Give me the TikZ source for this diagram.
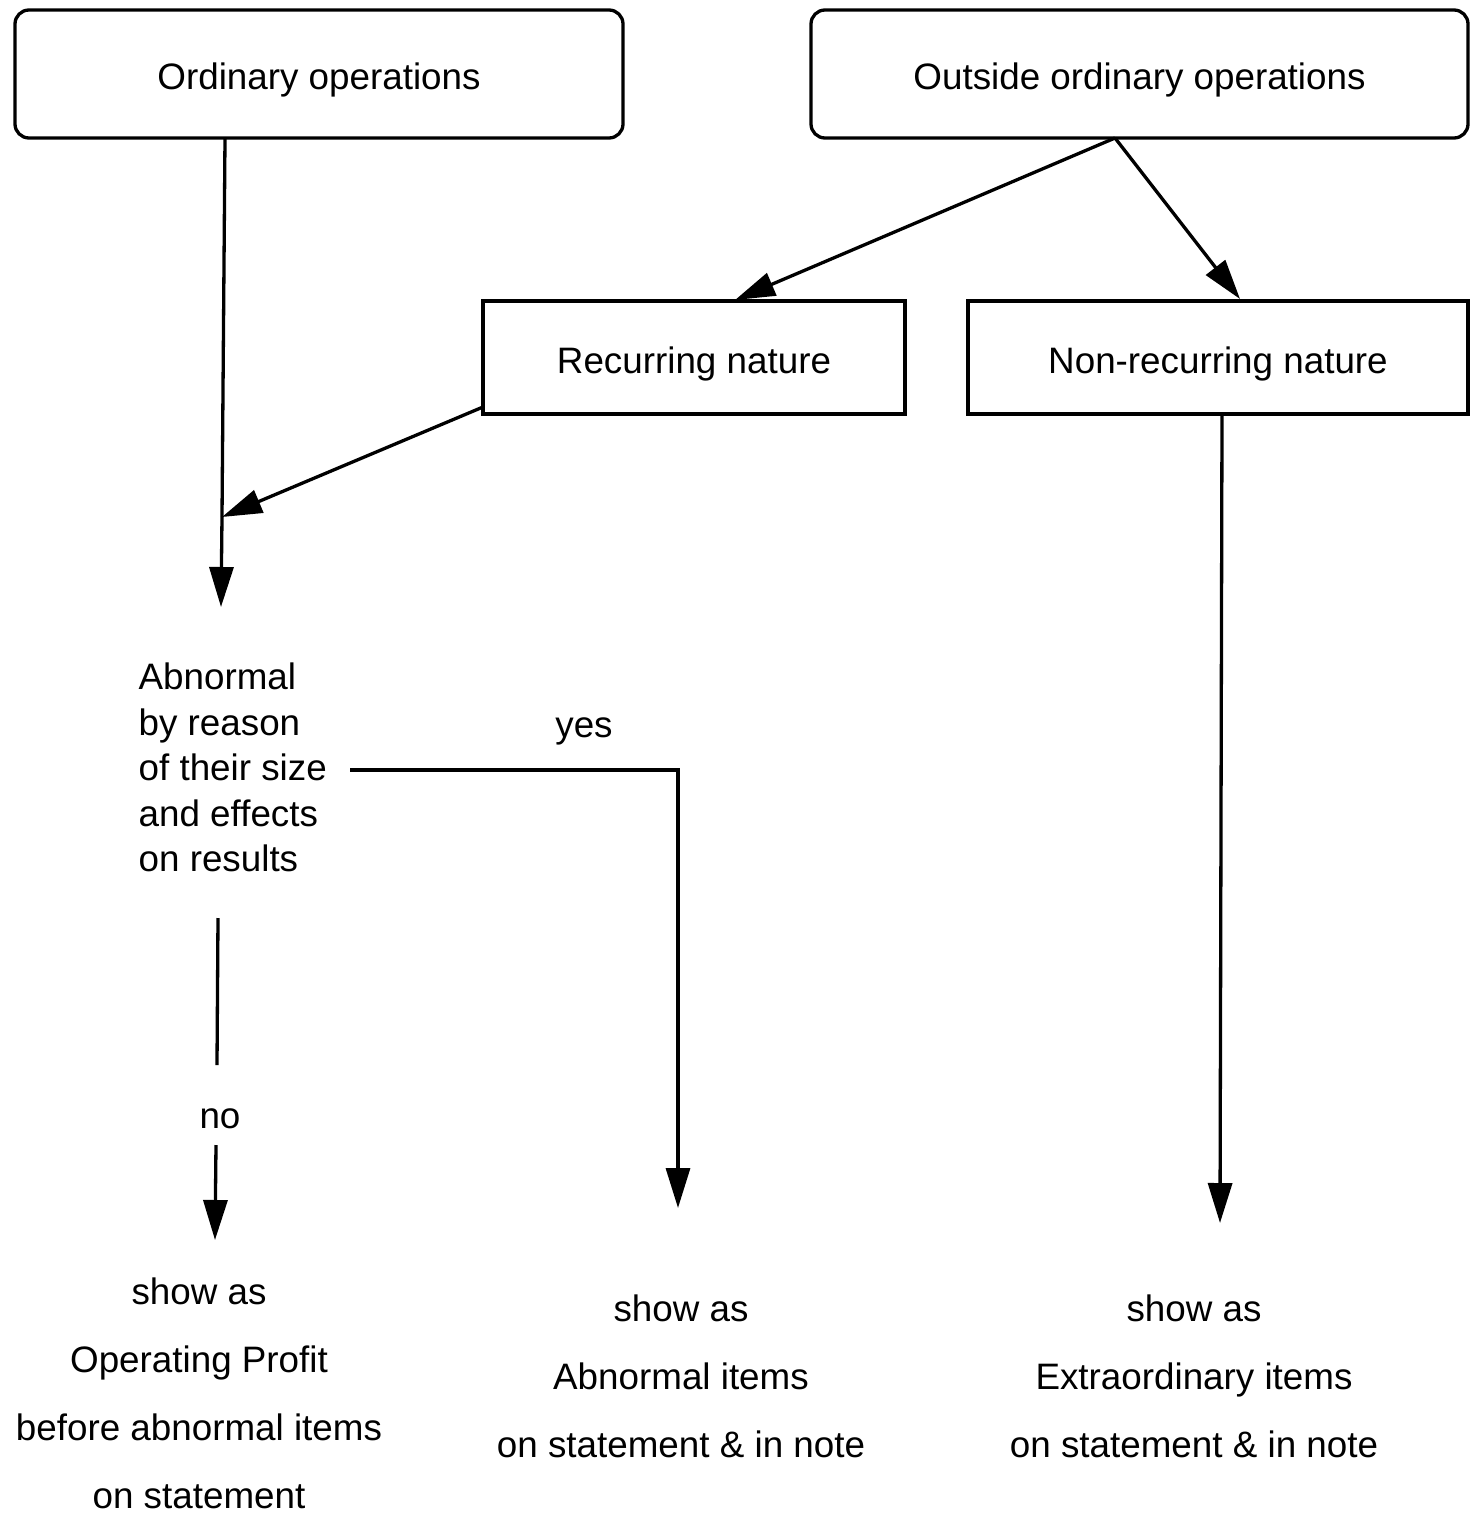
\documentclass[tikz,border=0pt]{standalone}
\usepackage{fontspec}
\setmainfont{Liberation Sans}
\usetikzlibrary{arrows.meta}
\begin{document}
\begin{tikzpicture}[x=1pt,y=-1pt,
  line width=3.3pt,
  tip/.style={-{Triangle[length=40pt,width=24pt]}},
  rbox/.style={draw,rounded corners=14pt,inner sep=0pt,text height=31pt,text depth=0pt,font=\fontsize{36.8}{45.5}\selectfont},
  sbox/.style={draw,inner sep=0pt,text height=31pt,text depth=0pt,font=\fontsize{36.8}{45.5}\selectfont},
  lbl/.style={inner sep=0pt,font=\fontsize{36.8}{45.5}\selectfont},
  res/.style={inner sep=0pt,align=center,font=\fontsize{36.8}{68}\selectfont}]
\useasboundingbox (0,0) rectangle (1480,1514);
\node[rbox,minimum width=608pt,minimum height=128pt] (ord) at (319,74) {Ordinary operations};
\node[rbox,minimum width=657pt,minimum height=128pt] (out) at (1139.5,74) {Outside ordinary operations};
\node[sbox,minimum width=422pt,minimum height=113pt] (rec) at (694,357.5) {Recurring nature};
\node[sbox,minimum width=500pt,minimum height=113pt] (non) at (1218,357.5) {Non-recurring nature};
\node[lbl,align=left,anchor=west] (abn) at (137,767.5) {Abnormal\\by reason\\of their size\\and effects\\on results};
\node[lbl] (yes) at (584,731) {yes};
\node[lbl] (no) at (220,1119) {no};
\node[res] (r1) at (199,1393.5) {show as\\Operating Profit\\before abnormal items\\on statement};
\node[res] (r2) at (681,1376) {show as\\Abnormal items\\on statement \& in note};
\node[res] (r3) at (1194,1376) {show as\\Extraordinary items\\on statement \& in note};
\coordinate (ordo) at (225,138);
\coordinate (j) at (222,517);
\coordinate (abtip) at (221,607);
\coordinate (outo) at (1115,138);
\coordinate (rectip) at (735,300);
\coordinate (nontip) at (1240,299);
\coordinate (reco) at (483,407);
\coordinate (nono) at (1222,414);
\coordinate (nonend) at (1220,1223);
\coordinate (yes0) at (350,770);
\coordinate (yesend) at (678,1208);
\coordinate (no0) at (218,918);
\coordinate (no1) at (217,1065);
\coordinate (no2) at (216,1145);
\coordinate (noend) at (215,1240);
\draw (ordo) -- (j);
\draw[tip] (j) -- (abtip);
\draw[tip] (reco) -- (j);
\draw[tip] (outo) -- (rectip);
\draw[tip] (outo) -- (nontip);
\draw[tip] (nono) -- (nonend);
\draw[tip] (yes0) -| (yesend);
\draw (no0) -- (no1);
\draw[tip] (no2) -- (noend);
\end{tikzpicture}
\end{document}
